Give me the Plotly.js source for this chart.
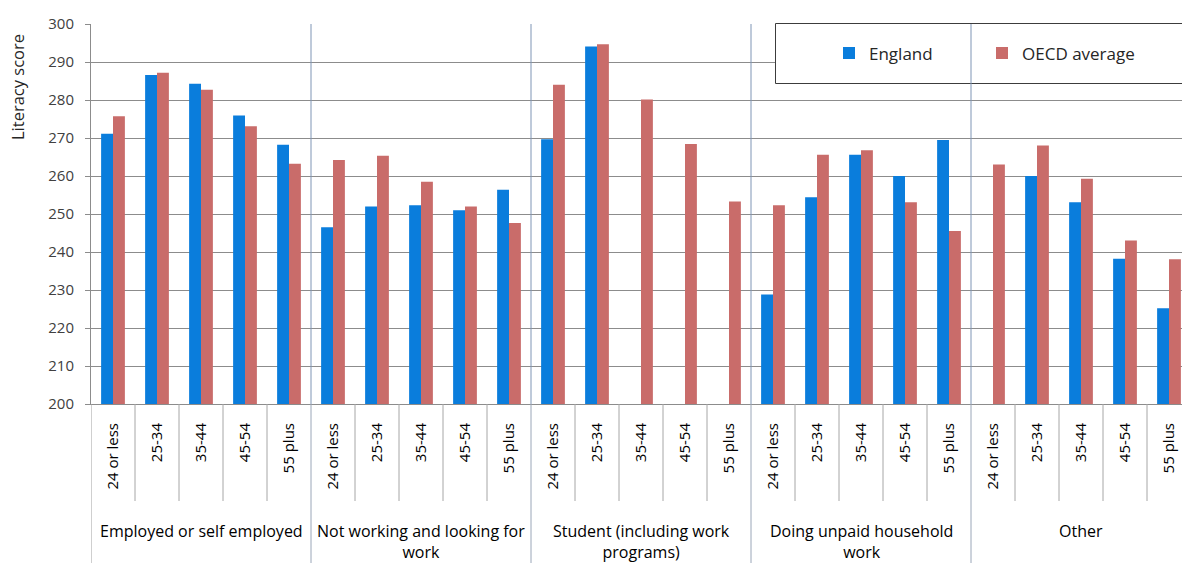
<!DOCTYPE html>
<html>
<head>
<meta charset="utf-8">
<script src="https://cdn.plot.ly/plotly-3.0.1.min.js"></script>
<style>
  html, body { margin: 0; padding: 0; background: #ffffff; }
  #chart { width: 1182px; height: 563px; }
</style>
</head>
<body>
<div id="chart"></div>
<script>
// Economic status groups (line breaks where the labels wrap) and age bands
const groups = [
  "Employed or self employed",
  "Not working and looking for<br>work",
  "Student (including work<br>programs)",
  "Doing unpaid household<br>work",
  "Other"
];
const ageBands = ["24 or less", "25-34", "35-44", "45-54", "55 plus"];

// Literacy scores, five age bands per group, in group order (null = not reported)
const england = [
  271.1, 286.6, 284.3, 275.9, 268.2,
  246.5, 252.0, 252.3, 251.0, 256.4,
  269.7, 294.1, null, null, null,
  228.8, 254.4, 265.6, 260.0, 269.5,
  null, 260.0, 253.1, 238.2, 225.2
];
const oecd = [
  275.7, 287.2, 282.7, 273.1, 263.2,
  264.2, 265.3, 258.5, 252.0, 247.6,
  284.0, 294.7, 280.1, 268.4, 253.3,
  252.3, 265.6, 266.8, 253.1, 245.5,
  263.0, 268.0, 259.3, 243.0, 238.1
];

// One slot per (group, age band) pair
const slots = [];
const slotLabels = [];
groups.forEach((g, gi) => ageBands.forEach((a, ai) => {
  slots.push(gi * ageBands.length + ai);
  slotLabels.push(a);
}));

const FONT = "'Open Sans', 'Noto Sans', sans-serif";
const W = 1182, H = 563;
const M = { l: 91, r: 0, t: 24, b: 159 };
const plotW = W - M.l - M.r, plotH = H - M.t - M.b;
const slotPx = 44;                       // width of one age-band slot
const xMax = -0.5 + plotW / slotPx;      // the last group runs past the right edge

// pixel -> paper helpers for decorations outside the data area
const px = x => (x - M.l) / plotW;
const py = y => (H - M.b - y) / plotH;

const traces = [
  { type: "bar", name: "England", x: slots, y: england,
    marker: { color: "#0a7ddc" }, legend: "legend", hoverinfo: "y" },
  { type: "bar", name: "OECD average", x: slots, y: oecd,
    marker: { color: "#c96c6a" }, legend: "legend2", hoverinfo: "y" }
];

const shapes = [];
// legend frame (white, hides the grid underneath)
shapes.push({ type: "rect", xref: "paper", yref: "paper", layer: "above",
  x0: px(775.5), x1: px(1190), y0: py(83.5), y1: py(23.5),
  fillcolor: "#ffffff", line: { color: "#3c3c3c", width: 1 } });
// short separators between age bands below the axis
slots.forEach(s => {
  if (s % ageBands.length !== 0) {
    shapes.push({ type: "line", xref: "x", yref: "paper", layer: "above",
      x0: s - 0.5, x1: s - 0.5, y0: 0, y1: py(501),
      line: { color: "#a6a6a6", width: 1 } });
  }
});
// group separators through the plot and the label area
groups.forEach((g, gi) => {
  if (gi === 0) return;
  const xs = gi * ageBands.length - 0.5;
  shapes.push({ type: "line", xref: "x", yref: "paper", layer: "above",
    x0: xs, x1: xs, y0: 0, y1: 1, line: { color: "#7f95b5", width: 1 } });
  shapes.push({ type: "line", xref: "x", yref: "paper", layer: "above",
    x0: xs, x1: xs, y0: py(H), y1: 0, line: { color: "#9aa6b8", width: 1 } });
});
// left frame line continuing down through the label area
shapes.push({ type: "line", xref: "x", yref: "paper", layer: "above",
  x0: -0.5, x1: -0.5, y0: py(H), y1: 0, line: { color: "#a0a0a0", width: 1 } });

const annotations = groups.map((g, gi) => ({
  text: g, xref: "x", yref: "paper",
  x: gi * ageBands.length + (ageBands.length - 1) / 2, y: py(518),
  xanchor: "center", yanchor: "top", showarrow: false, align: "center",
  font: { family: FONT, size: 16, color: "#000000" }
}));
annotations.push({
  text: "Literacy score", xref: "paper", yref: "paper",
  x: px(18), y: py(87), xanchor: "center", yanchor: "middle",
  textangle: -90, showarrow: false,
  font: { family: FONT, size: 16.5, color: "#262626" }
});

const legendCommon = {
  orientation: "h", bgcolor: "rgba(0,0,0,0)", borderwidth: 0,
  xanchor: "left", yanchor: "middle", itemwidth: 30,
  font: { family: FONT, size: 17, color: "#262626" }
};

const layout = {
  width: W, height: H, margin: M,
  paper_bgcolor: "#ffffff", plot_bgcolor: "#ffffff",
  barmode: "group", bargap: 0.46, bargroupgap: 0,
  font: { family: FONT },
  xaxis: {
    range: [-0.5, xMax], tickmode: "array", tickvals: slots, ticktext: slotLabels,
    tickangle: -90, ticks: "", showgrid: false, zeroline: false,
    showline: true, linecolor: "#8c8c8c", linewidth: 1,
    ticklabelstandoff: 12,
    tickfont: { family: FONT, size: 15, color: "#000000" }, fixedrange: true
  },
  yaxis: {
    range: [200, 300], dtick: 10, ticks: "outside", ticklen: 5, tickcolor: "#8c8c8c",
    showgrid: true, gridcolor: "#8c8c8c", gridwidth: 1, zeroline: false,
    showline: true, linecolor: "#8c8c8c", linewidth: 1,
    ticklabelstandoff: 8,
    tickfont: { family: FONT, size: 15, color: "#404040" }, fixedrange: true
  },
  showlegend: true,
  legend: Object.assign({}, legendCommon, { x: px(829), y: py(53.5) }),
  legend2: Object.assign({}, legendCommon, { x: px(982), y: py(53.5) }),
  shapes: shapes,
  annotations: annotations
};

Plotly.newPlot("chart", traces, layout, { displayModeBar: false, staticPlot: true });
</script>
</body>
</html>
